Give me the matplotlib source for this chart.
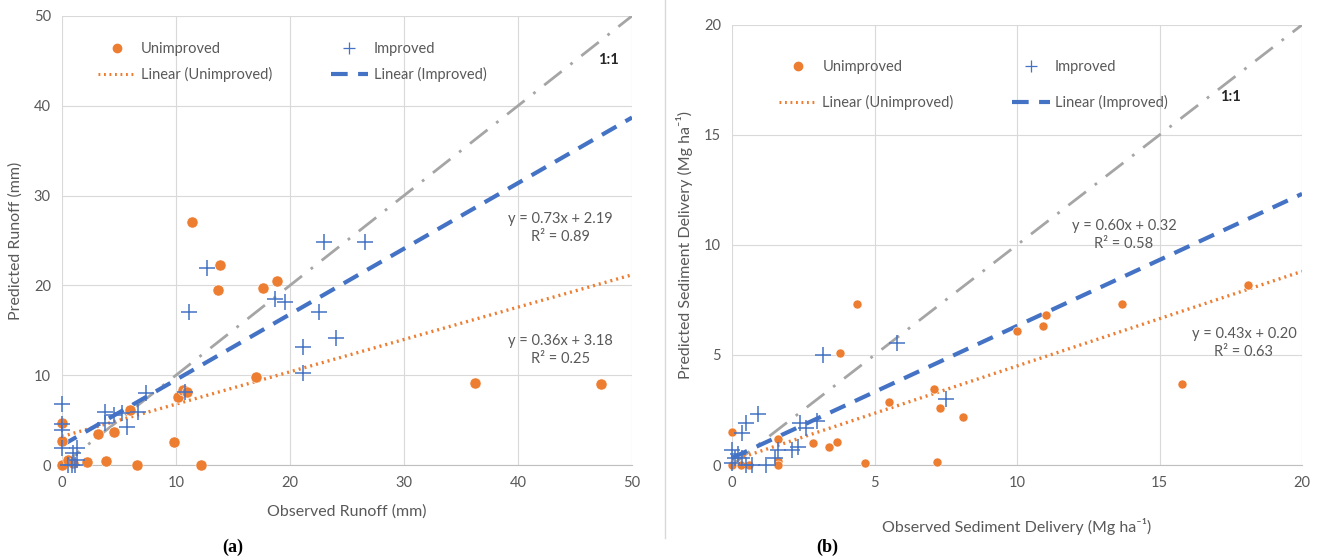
import matplotlib
matplotlib.use('Agg')
import matplotlib.pyplot as plt
from matplotlib.lines import Line2D

# (a) runoff, mm
runoff_unimp_obs = [0, 0, 0, 0.5, 1.0, 2.2, 3.2, 3.9, 4.6, 6.0, 6.6, 9.8, 10.2, 10.6,
                    11.0, 11.4, 12.2, 13.9, 13.7, 17.0, 17.6, 18.9, 36.2, 47.3]
runoff_unimp_pred = [4.7, 2.7, 0, 0.6, 0.2, 0.3, 3.4, 0.5, 3.7, 6.1, 0, 2.6, 7.6, 8.4,
                     8.1, 27.1, 0, 22.3, 19.5, 9.8, 19.7, 20.5, 9.1, 9.0]
runoff_imp_obs = [0, 0, 0, 0, 0.5, 0.9, 1.1, 1.3, 1.0, 1.3, 3.8, 3.8, 4.6, 5.3, 5.7,
                  6.7, 7.4, 10.8, 11.1, 12.7, 18.7, 19.6, 21.1, 21.1, 22.5, 23.0, 24.0, 26.6]
runoff_imp_pred = [6.8, 4.6, 3.9, 1.9, 0, 0, 0, 0.6, 1.3, 1.9, 5.9, 4.7, 5.6, 5.8, 4.2,
                   5.9, 8.0, 8.1, 17.0, 21.9, 18.5, 18.2, 13.1, 10.2, 17.0, 24.8, 14.1, 24.8]
runoff_fit_unimp = (0.36, 3.18, 0.25)
runoff_fit_imp = (0.73, 2.19, 0.89)

# (b) sediment delivery, Mg/ha
sed_unimp_obs = [0, 0, 0.3, 0.6, 1.6, 1.6, 1.6, 2.85, 3.4, 3.7, 3.8, 4.4, 4.65, 5.5,
                 7.1, 7.2, 7.3, 8.1, 10.0, 10.9, 11.0, 13.7, 15.8, 18.1]
sed_unimp_pred = [1.5, 0, 0, 0, 1.2, 0.2, 0, 1.0, 0.8, 1.05, 5.1, 7.3, 0.1, 2.85,
                  3.45, 0.15, 2.6, 2.2, 6.1, 6.3, 6.8, 7.3, 3.7, 8.2]
sed_imp_obs = [0, 0, 0.2, 0.35, 0.35, 0.5, 0.5, 0.7, 0.9, 0.1, 1.2, 1.5, 1.6, 2.1,
               2.3, 2.4, 2.6, 3.0, 3.2, 5.8, 7.5]
sed_imp_pred = [0.1, 0.7, 0.5, 0.3, 1.45, 1.9, 0, 0, 2.3, 0.3, 0, 0.3, 0.7, 0.7,
                0.8, 1.9, 1.7, 2.0, 5.0, 5.55, 3.0]
sed_fit_unimp = (0.43, 0.20, 0.63)
sed_fit_imp = (0.60, 0.32, 0.58)

ORANGE = '#ED7D31'
BLUE = '#4472C4'
GREY = '#A5A5A5'
TXT = '#595959'

plt.rcParams['font.family'] = ['Lato', 'DejaVu Sans']

DOTTED = (0, (0.6, 1.2))
DASHED = (0, (4, 2.5))


def panel(ax, xu, yu, xi, yi, fit_u, fit_i, lim, step, dot, eq_pos, one_pos,
          xlabel, ylabel, leg_anchor, leg_spacing, xpad):
    ax.set_xlim(0, lim)
    ax.set_ylim(0, lim)
    ax.set_xticks(range(0, lim + 1, step))
    ax.set_yticks(range(0, lim + 1, step))
    ax.grid(True, color='#D9D9D9', lw=0.8)
    ax.set_axisbelow(True)
    for s in ['top', 'right', 'left']:
        ax.spines[s].set_visible(False)
    ax.spines['bottom'].set_color('#BFBFBF')
    ax.tick_params(length=0, labelsize=10.5, labelcolor=TXT, pad=8)
    ax.set_xlabel(xlabel, fontsize=11.5, color=TXT, labelpad=xpad)
    ax.set_ylabel(ylabel, fontsize=11.5, color=TXT, labelpad=8)

    xs = [0, lim]
    ax.plot(xs, xs, color=GREY, lw=2, ls=(0, (8, 4, 1, 4)), zorder=2)
    ax.plot(xs, [fit_u[0] * x + fit_u[1] for x in xs], color=ORANGE, lw=2.4,
            ls=DOTTED, zorder=3)
    ax.plot(xs, [fit_i[0] * x + fit_i[1] for x in xs], color=BLUE, lw=3,
            ls=DASHED, zorder=3)
    ax.plot(xu, yu, 'o', color=ORANGE, ms=dot, mec='white', mew=0.4, zorder=4,
            clip_on=False)
    ax.plot(xi, yi, '+', color=BLUE, ms=11, mew=1.1, zorder=5, clip_on=False)

    for fit, pos in zip([fit_i, fit_u], eq_pos):
        ax.text(pos[0], pos[1], 'y = %.2fx + %.2f\nR² = %.2f' % fit, ha='center',
                va='center', fontsize=10.5, color=TXT, linespacing=1.4, zorder=6)
    ax.text(one_pos[0], one_pos[1], '1:1', fontsize=10.5, color='#262626',
            fontweight='bold', ha='center', va='center')

    handles = [Line2D([], [], ls='none', marker='o', ms=6, color=ORANGE),
               Line2D([], [], color=ORANGE, lw=2.2, ls=DOTTED),
               Line2D([], [], ls='none', marker='+', ms=8, mew=0.9, color=BLUE),
               Line2D([], [], color=BLUE, lw=3, ls=DASHED)]
    labels = ['Unimproved', 'Linear (Unimproved)', 'Improved', 'Linear (Improved)']
    ax.legend(handles, labels, ncol=2, frameon=False, loc='upper left',
              bbox_to_anchor=leg_anchor, fontsize=10.5, labelcolor=TXT,
              columnspacing=4.0, handlelength=2.6, handletextpad=0.35,
              labelspacing=leg_spacing)


fig = plt.figure(figsize=(13.22, 5.6), dpi=100)
ax1 = fig.add_axes([0.0469, 0.1696, 0.4312, 0.802])
ax2 = fig.add_axes([0.5537, 0.1696, 0.4312, 0.786])

panel(ax1, runoff_unimp_obs, runoff_unimp_pred, runoff_imp_obs, runoff_imp_pred,
      runoff_fit_unimp, runoff_fit_imp, 50, 10, 8,
      [(43.7, 26.4), (43.7, 12.8)], (47.9, 45.1),
      'Observed Runoff (mm)', 'Predicted Runoff (mm)', (0.04, 0.972), 0.75, 10)
panel(ax2, sed_unimp_obs, sed_unimp_pred, sed_imp_obs, sed_imp_pred,
      sed_fit_unimp, sed_fit_imp, 20, 5, 6.5,
      [(13.75, 10.45), (17.96, 5.55)], (17.5, 16.7),
      'Observed Sediment Delivery (Mg ha⁻¹)', 'Predicted Sediment Delivery (Mg ha⁻¹)',
      (0.06, 0.95), 1.45, 20)

fig.add_artist(Line2D([0.503, 0.503], [0.04, 1.0], color='#D9D9D9', lw=1))
fig.text(0.176, 0.014, '(a)', fontsize=13, fontweight='bold',
         family='Liberation Serif', ha='center')
fig.text(0.626, 0.014, '(b)', fontsize=13, fontweight='bold',
         family='Liberation Serif', ha='center')

fig.savefig('out.png', dpi=100)
